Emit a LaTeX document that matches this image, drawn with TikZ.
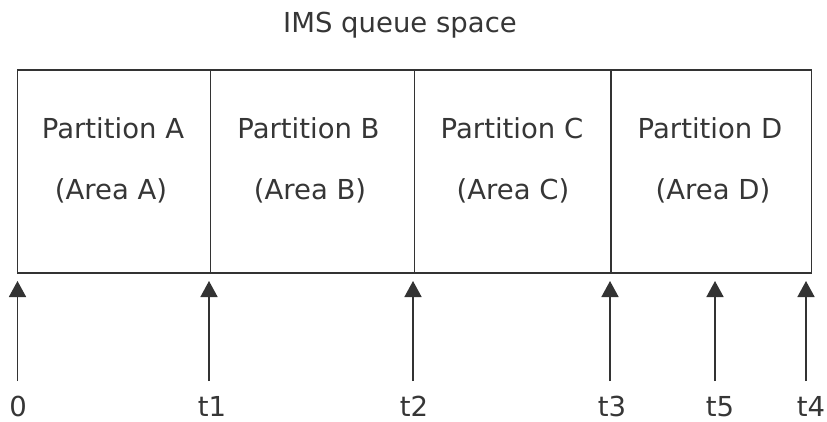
\documentclass[tikz,border=0pt]{standalone}
\usepackage{fontspec}
\setmainfont{DejaVu Sans}
\usetikzlibrary{arrows.meta}
\definecolor{ink}{HTML}{333333}
\definecolor{txt}{HTML}{363636}
\tikzset{
  part/.style={draw=ink, line width=1.6pt, minimum height=203pt, inner sep=0pt, anchor=north west},
  lbl/.style={text=txt, font=\fontsize{27.5}{30}\selectfont, inner sep=0pt, anchor=base},
  ptr/.style={draw=ink, line width=1.6pt, -{Triangle[length=16pt, width=17pt]}},
}
\begin{document}
\begin{tikzpicture}[x=1pt, y=-1pt]
  \useasboundingbox (0,0) rectangle (827,422);
  % title
  \node[lbl] (title) at (400,33) {IMS queue space};
  % the four partitions
  \node[part, minimum width=193pt] (pA) at (16.5,69) {};
  \node[part, minimum width=204pt] (pB) at (209.5,69) {};
  \node[part, minimum width=196.5pt] (pC) at (413.5,69) {};
  \node[part, minimum width=200.5pt] (pD) at (610,69) {};
  % partition names
  \node[lbl] (nA) at (113,139) {Partition A};
  \node[lbl] (aA) at (111,200) {(Area A)};
  \node[lbl] (nB) at (308.5,139) {Partition B};
  \node[lbl] (aB) at (310,200) {(Area B)};
  \node[lbl] (nC) at (512,139) {Partition C};
  \node[lbl] (aC) at (513,200) {(Area C)};
  \node[lbl] (nD) at (710,139) {Partition D};
  \node[lbl] (aD) at (713,200) {(Area D)};
  % offsets along the queue space
  \foreach \n/\ax/\lx/\t in {0/17.5/18/0, 1/209/212/t1, 2/413/414/t2, 3/610/612/t3, 5/715/720/t5, 4/806/811/t4}{
    \coordinate (s\n) at (\ax,381);
    \coordinate (e\n) at (\ax,281);
    \node[lbl] (l\n) at (\lx,416) {\t};
    \draw[ptr] (s\n) -- (e\n);
  }
\end{tikzpicture}
\end{document}
